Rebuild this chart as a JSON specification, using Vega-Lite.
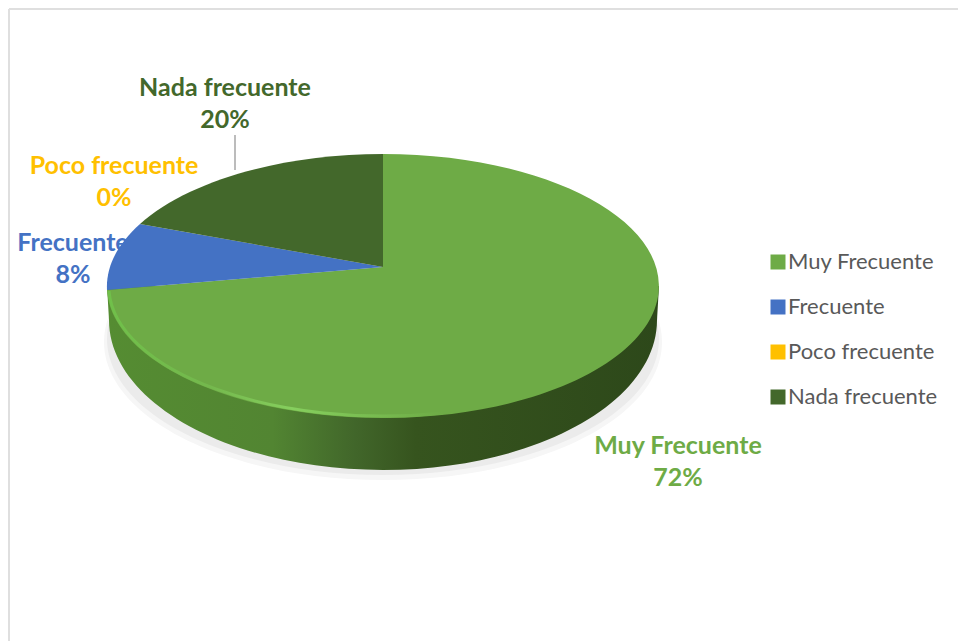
{
"$schema":"https://vega.github.io/schema/vega-lite/v6.json",
"width":766,"height":534,
"autosize":{"type":"none"},
"padding":{"left":0,"top":0,"right":192,"bottom":107},
"background":"white",
"view":{"stroke":null},
"config":{"font":"Lato"},
"data":{"values":[
{"cat":"Muy Frecuente","pct":72,"label":"Muy Frecuente\n72%"},
{"cat":"Frecuente","pct":8,"label":"Frecuente\n8%"},
{"cat":"Poco frecuente","pct":0,"label":"Poco frecuente\n0%"},
{"cat":"Nada frecuente","pct":20,"label":"Nada frecuente\n20%"}
]},
"layer":[
{"transform":[{"filter":"datum.pct==72"}],
 "mark":{"type":"rule","color":"#dfdfdf","strokeWidth":2},
 "encoding":{"x":{"value":9},"y":{"value":9},"y2":{"value":641}}},
{"transform":[{"filter":"datum.pct==72"}],
 "mark":{"type":"rule","color":"#dfdfdf","strokeWidth":2},
 "encoding":{"x":{"value":9},"x2":{"value":958},"y":{"value":9}}},
{"transform":[{"filter":"datum.pct==20"}],
 "mark":{"type":"rule","color":"#a6a6a6","strokeWidth":1.5},
 "encoding":{"x":{"value":235},"y":{"value":135},"y2":{"value":170}}},
{"transform":[{"filter":"datum.pct==72"}],
 "mark":{"type":"point","filled":true,"opacity":1,"size":4,"fill":"#f6f6f6","shape":"M-279,75A279 138 0 1 0 279,75A279 138 0 1 0 -279,75Z"}},
{"transform":[{"filter":"datum.pct==72"}],
 "mark":{"type":"point","filled":true,"opacity":1,"size":4,"fill":"#ebebeb","shape":"M-276,72A276 136 0 1 0 276,72A276 136 0 1 0 -276,72Z"}},
{"transform":[{"filter":"datum.pct==72"}],
 "mark":{"type":"point","filled":true,"opacity":1,"size":4,
  "fill":{"gradient":"linear","x1":0,"x2":1,"y1":0,"y2":0,"stops":[
   {"offset":0,"color":"#558c32"},{"offset":0.3,"color":"#528532"},{"offset":0.45,"color":"#41662a"},{"offset":0.56,"color":"#36541e"},{"offset":1,"color":"#2d481a"}]},
  "shape":"M-276,19L-274,53A274 150 0 0 0 0,203A274 150 0 0 0 274,53L276,19Z"}},
{"mark":{"type":"point","filled":true,"opacity":1,"size":4},
 "encoding":{
  "shape":{"field":"label","type":"nominal","legend":null,
   "scale":{"domain":["Muy Frecuente\n72%","Frecuente\n8%","Poco frecuente\n0%","Nada frecuente\n20%"],
    "range":["M0,0L0,-113A276 132 0 1 1 -276,23Z",
             "M0,0L-276,23A276 132 0 0 1 -243,-43Z",
             "M0,0L-243,-43Z",
             "M0,0L-243,-43A276 132 0 0 1 0,-113Z"]}},
  "color":{"field":"cat","type":"nominal",
   "scale":{"domain":["Muy Frecuente","Frecuente","Poco frecuente","Nada frecuente"],"range":["#6eab46","#4472c4","#ffc000","#43682b"]},
   "legend":{"title":null,"orient":"none","legendX":767,"legendY":251,"symbolType":"square","symbolSize":225,"symbolStrokeWidth":0,"labelFontSize":22,"labelColor":"#595959","labelFont":"Lato","rowPadding":23,"labelOffset":-1,"symbolOpacity":1}}
 }},
{"transform":[{"filter":"datum.pct==72"}],
 "mark":{"type":"point","filled":false,"opacity":1,"size":4,"strokeWidth":3,"fill":null,
  "stroke":{"gradient":"linear","x1":0,"x2":1,"y1":0,"y2":0,"stops":[
   {"offset":0,"color":"#70c04a"},{"offset":0.3,"color":"#74b84d"},{"offset":0.55,"color":"#86cf5e"},{"offset":0.8,"color":"#78bb50"},{"offset":1,"color":"#6eab46"}]},
  "shape":"M-274,24A275 130 0 0 0 60,146"}},
{"mark":{"type":"text","fontSize":25,"fontWeight":"bold","font":"Lato","lineBreak":"\n","lineHeight":32,"baseline":"middle","align":"center"},
 "encoding":{
  "text":{"field":"label"},
  "x":{"field":"pct","type":"quantitative","axis":null,"scale":{"domain":[0,8,20,72],"range":[114,73,225,678],"nice":false,"zero":false}},
  "y":{"field":"pct","type":"quantitative","axis":null,"scale":{"domain":[0,8,20,72],"range":[166,243,88,446],"nice":false,"zero":false}},
  "color":{"field":"cat","type":"nominal","legend":null}
 }}
]
}
